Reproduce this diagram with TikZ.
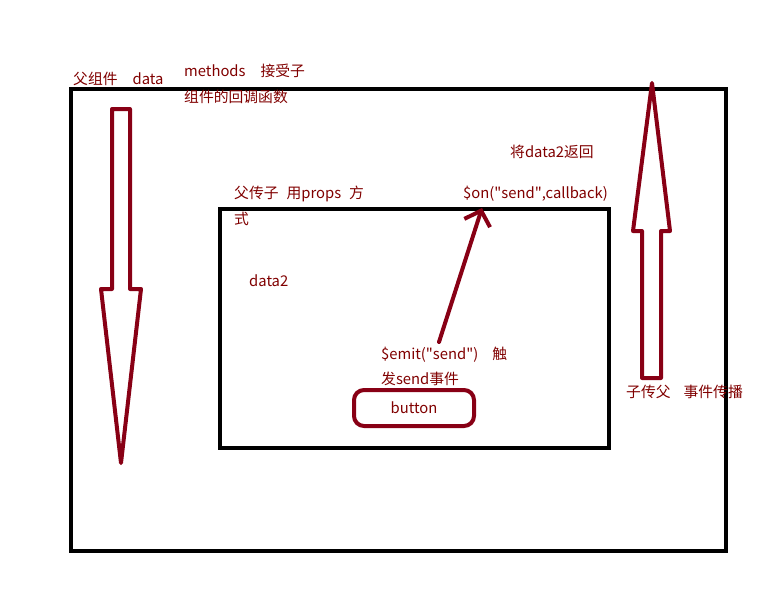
\documentclass[tikz,border=0pt]{standalone}
\usepackage{fontspec}
\setmainfont{Noto Sans CJK SC}
\usetikzlibrary{arrows.meta}
\definecolor{dred}{HTML}{880015}
\definecolor{tred}{HTML}{800000}
\newcommand{\qq}{\textquotedbl}
\tikzset{
  frame/.style={draw=black,line width=4.5pt},
  blockarrow/.style={draw=dred,line width=4pt,line join=round},
  lbl/.style={text=tred,font=\fontsize{14.8}{17}\selectfont,inner sep=0pt,anchor=base west},
  btn/.style={draw=dred,line width=4pt,rounded corners=10pt,minimum width=120pt,minimum height=36pt,inner sep=0pt,text=tred,font=\fontsize{14.8}{17}\selectfont},
  conn/.style={draw=dred,line width=4pt,line cap=round,-{Straight Barb[length=13pt,width=27pt]}}
}
\begin{document}
\begin{tikzpicture}[x=1pt,y=-1pt]
\useasboundingbox (0,0) rectangle (768,614);
% frames
\draw[frame] (71,89) rectangle (726,551);
\draw[frame] (220,209) rectangle (609,448);
% left block arrow (down)
\draw[blockarrow] (112,109) -- (130,109) -- (130,289) -- (141,289) -- (121,463) -- (101,289) -- (112,289) -- cycle;
% right block arrow (up)
\draw[blockarrow] (642,378) -- (661,378) -- (661,231) -- (670,231) -- (652,83) -- (633,231) -- (642,231) -- cycle;
% texts
\node[lbl] (parent) at (73,84) {父组件\hspace{15pt}data};
\node[lbl] (methods) at (184,76) {methods\hspace{15pt}接受子};
\node[lbl] (methods2) at (184,102) {组件的回调函数};
\node[lbl] (ret) at (510,157) {将data2返回};
\node[lbl] (props) at (234,198) {父传子\hspace{8pt}用props\hspace{8pt}方};
\node[lbl] (props2) at (234,224) {式};
\node[lbl] (on) at (463,198) {\$on(\qq send\qq,callback)};
\node[lbl] (data2) at (249,286) {data2};
\node[lbl] (emit) at (381,359) {\$emit(\qq send\qq)\hspace{14pt}触};
\node[lbl] (emit2) at (381,384) {发send事件};
\node[lbl] (child) at (626,397) {子传父\hspace{13pt}事件传播};
\node[btn] (button) at (414,408) {button};
% connector
\coordinate (emitpt) at (439,342);
\coordinate (onpt) at (482,208);
\draw[conn] (emitpt) -- (onpt);
\end{tikzpicture}
\end{document}
